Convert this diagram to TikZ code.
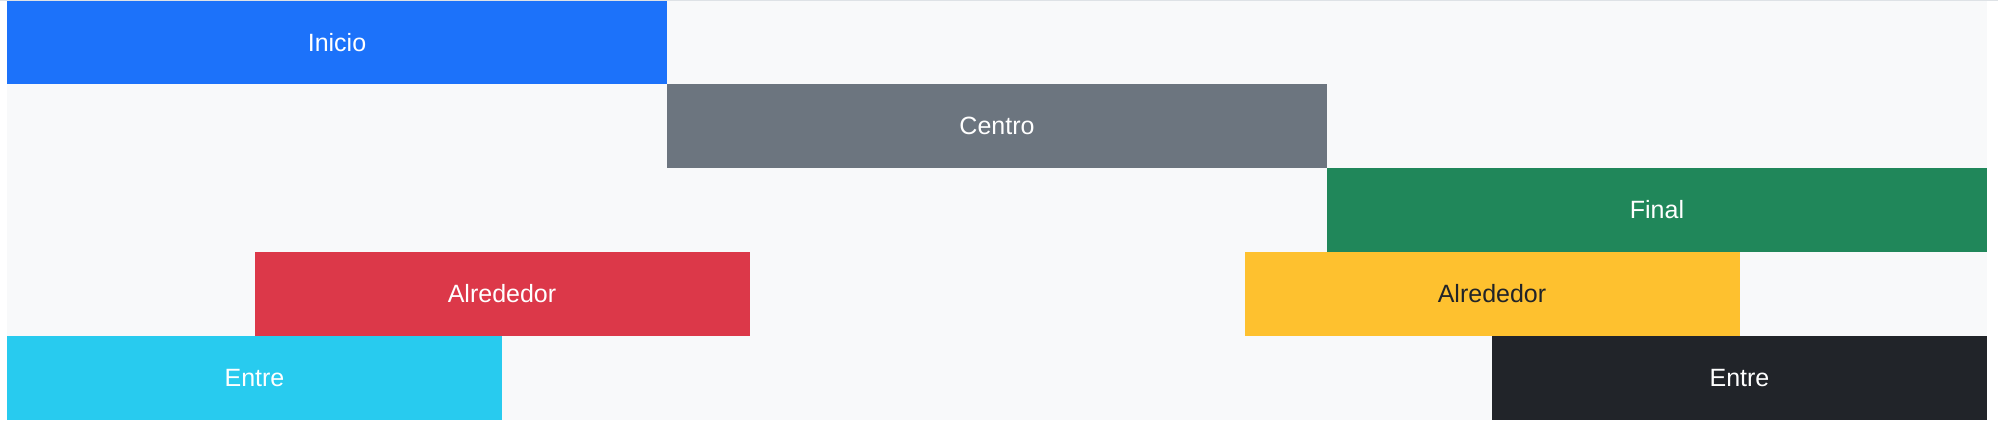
\documentclass[tikz,border=0pt]{standalone}
\usepackage{fontspec}
\setmainfont{Liberation Sans}
\definecolor{bgl}{HTML}{F8F9FA}
\definecolor{bsblue}{HTML}{1C72FA}
\definecolor{bsgray}{HTML}{6C757F}
\definecolor{bsgreen}{HTML}{20875A}
\definecolor{bsred}{HTML}{DC3849}
\definecolor{bsyellow}{HTML}{FEC12F}
\definecolor{bscyan}{HTML}{28CBEF}
\definecolor{bsdark}{HTML}{212429}
\definecolor{topline}{HTML}{DEE2E6}
\begin{document}
\begin{tikzpicture}[x=1pt,y=1pt,
  bar/.style={anchor=south west,inner sep=0pt,outer sep=0pt,minimum height=84pt,text=white,font=\fontsize{25}{29}\selectfont},
  third/.style={bar,minimum width=660pt},
  quarter/.style={bar,minimum width=495pt}]
\useasboundingbox (0,0) rectangle (1998,428);
\fill[white] (0,0) rectangle (1998,428);
\fill[bgl] (7,8) rectangle (1987,428);
\node[third,fill=bsblue,minimum height=83pt] (inicio) at (7,344) {Inicio};
\node[third,fill=bsgray] (centro) at (667,260) {Centro};
\node[third,fill=bsgreen] (final) at (1327,176) {Final};
\node[quarter,fill=bsred] (alr1) at (254.5,92) {Alrededor};
\node[quarter,fill=bsyellow,text=bsdark] (alr2) at (1244.5,92) {Alrededor};
\node[quarter,fill=bscyan] (entre1) at (7,8) {Entre};
\node[quarter,fill=bsdark] (entre2) at (1492,8) {Entre};
\fill[topline] (0,427) rectangle (1998,428);
\end{tikzpicture}
\end{document}
